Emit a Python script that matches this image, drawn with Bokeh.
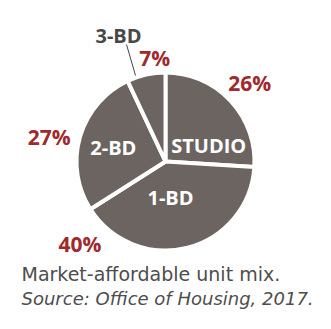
import math
from bokeh.plotting import figure
from bokeh.models import Range1d, ColumnDataSource
from bokeh.core.properties import value
from bokeh.embed import file_html
from bokeh.resources import INLINE

# ---- data ----
categories = ["STUDIO", "1-BD", "2-BD", "3-BD"]
shares = [26, 40, 27, 7]
pct_labels = ["26%", "40%", "27%", "7%"]
caption = "Market-affordable unit mix."
source_note = "Source: Office of Housing, 2017."

# ---- layout ----
W, H = 331, 329
CX, CY, R = 165, H - 161, 89
# inner-label polar placement (angle deg, radius px)
inner_pos = [(20, 46), (-82, 36), (165, 54), None]
# percent-label polar placement
pct_pos = [(43, 115), (-136, 119), (168, 119), (96, 104)]

GRAY = "#6b6461"
RED = "#a0292d"
DARK = "#4a4748"

p = figure(width=W, height=H, output_backend="svg", toolbar_location=None,
           x_range=Range1d(0, W), y_range=Range1d(0, H), min_border=0)
p.axis.visible = False
p.grid.visible = False
p.outline_line_color = None
p.background_fill_color = "white"
p.border_fill_color = "white"

total = sum(shares)
starts, ends = [], []
cum = 0
for s in shares:
    a0 = math.radians(90 - cum / total * 360)
    cum += s
    a1 = math.radians(90 - cum / total * 360)
    starts.append(a1)
    ends.append(a0)

src = ColumnDataSource(dict(start=starts, end=ends, cat=categories))
p.wedge(x=CX, y=CY, radius=R, start_angle="start", end_angle="end",
        source=src, fill_color=GRAY, line_color="white", line_width=4)

def polar(ang, r):
    a = math.radians(ang)
    return CX + r * math.cos(a), CY + r * math.sin(a)

ix, iy, it = [], [], []
for cat, pos in zip(categories, inner_pos):
    if pos is None:
        continue
    x, y = polar(*pos)
    ix.append(x); iy.append(y); it.append(cat)
p.text(x=ix, y=iy, text=it, text_color="white", text_font=value("Open Sans"),
       text_font_style="bold", text_font_size="20px", text_align="center",
       text_baseline="middle")

px, py = [], []
for pos in pct_pos:
    x, y = polar(*pos)
    px.append(x); py.append(y)
p.text(x=px, y=py, text=pct_labels, text_color=RED, text_font=value("Open Sans"),
       text_font_style="bold", text_font_size="21px", text_align="center",
       text_baseline="middle")

# 3-BD outside label with leader line
lx, ly = 118, H - 35
p.text(x=[lx], y=[ly], text=[categories[3]], text_color=DARK, text_font=value("Open Sans"),
       text_font_style="bold", text_font_size="20px", text_align="center",
       text_baseline="middle")
p.line(x=[126, 135], y=[H - 44, H - 75], line_color=DARK, line_width=1)

p.text(x=[21], y=[H - 273], text=[caption], text_color="#4d4d4d",
       text_font=value("DejaVu Sans"), text_font_size="19px", text_align="left",
       text_baseline="middle")
p.text(x=[21], y=[H - 298], text=[source_note], text_color="#4d4d4d",
       text_font=value("DejaVu Sans"), text_font_style="italic", text_font_size="18px",
       text_align="left", text_baseline="middle")

open("out.html", "w").write(file_html(p, INLINE))
